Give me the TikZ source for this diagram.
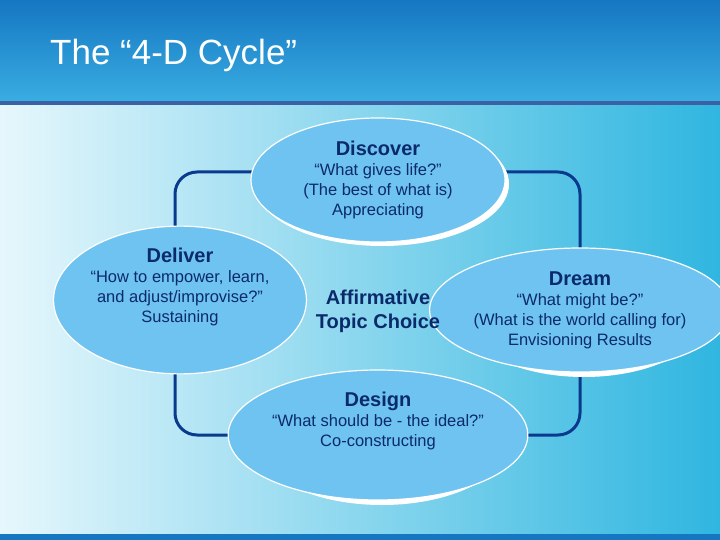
\documentclass[tikz,border=0pt]{standalone}
\usepackage{fontspec}
\setmainfont{Liberation Sans}
\usetikzlibrary{shapes.geometric}
\definecolor{navy}{HTML}{0B2A6B}
\definecolor{lineblue}{HTML}{0A3A8E}
\definecolor{ellfill}{HTML}{6FC3F0}
\definecolor{hdA}{HTML}{1577C2}
\definecolor{hdB}{HTML}{3AAEE2}
\definecolor{bgA}{HTML}{E6F7FC}
\definecolor{bgB}{HTML}{2FB6E0}
\newcommand{\myhdfont}{\bfseries\fontsize{20}{22}\selectfont}
\tikzset{
  ell/.style={ellipse, fill=ellfill, draw=white, line width=1.2pt, text=navy, align=center, inner sep=0pt, font=\fontsize{16.5}{20}\selectfont},
  shadowell/.style={ellipse, fill=white, inner sep=0pt},
  conn/.style={draw=lineblue, line width=3pt, rounded corners=22pt}
}
\begin{document}
\begin{tikzpicture}[x=1pt,y=-1pt]
\useasboundingbox (0,0) rectangle (720,540);
\shade[left color=bgA, right color=bgB] (0,0) rectangle (720,540);
\shade[top color=hdA, bottom color=hdB] (0,0) rectangle (720,103);
\fill[lineblue!80] (0,101) rectangle (720,105);
\fill[hdA] (0,534) rectangle (720,540);
\node[text=white, anchor=west, inner sep=0pt, font=\fontsize{35}{38}\selectfont] (title) at (50,55) {The “4-D Cycle”};
% connectors
\coordinate (c1) at (175,245);
\coordinate (c2) at (580,250);
\draw[conn] (262,172) -| (c1);
\draw[conn] (495,172) -| (c2);
\draw[conn] (175,355) |- (255,435);
\draw[conn] (580,370) |- (500,435);
% shadows
\node[shadowell, minimum width=254pt, minimum height=124pt] at (382,184) {};
\node[shadowell, minimum width=234pt, minimum height=120pt] at (184,305) {};
\node[shadowell, minimum width=244pt, minimum height=124pt] at (584,315) {};
\node[shadowell, minimum width=256pt, minimum height=130pt] at (382,440) {};
% ellipses
\node[ell, minimum width=254pt, minimum height=124pt] (discover) at (378,180) {{\myhdfont Discover}\\“What gives life?”\\(The best of what is)\\Appreciating};
\node[ell, minimum width=234pt, minimum height=120pt] (deliver) at (180,300) {{\myhdfont Deliver}\\“How to empower, learn,\\and adjust/improvise?”\\Sustaining\\[10pt]};
\node[ell, minimum width=244pt, minimum height=124pt] (dream) at (580,310) {{\myhdfont Dream}\\“What might be?”\\(What is the world calling for)\\Envisioning Results};
\node[ell, minimum width=256pt, minimum height=130pt] (design) at (378,435) {{\myhdfont Design}\\“What should be - the ideal?”\\Co-constructing\\[12pt]};
\node[text=navy, align=center, font=\bfseries\fontsize{20}{24}\selectfont] (topic) at (378,311) {Affirmative\\Topic Choice};
\end{tikzpicture}
\end{document}
